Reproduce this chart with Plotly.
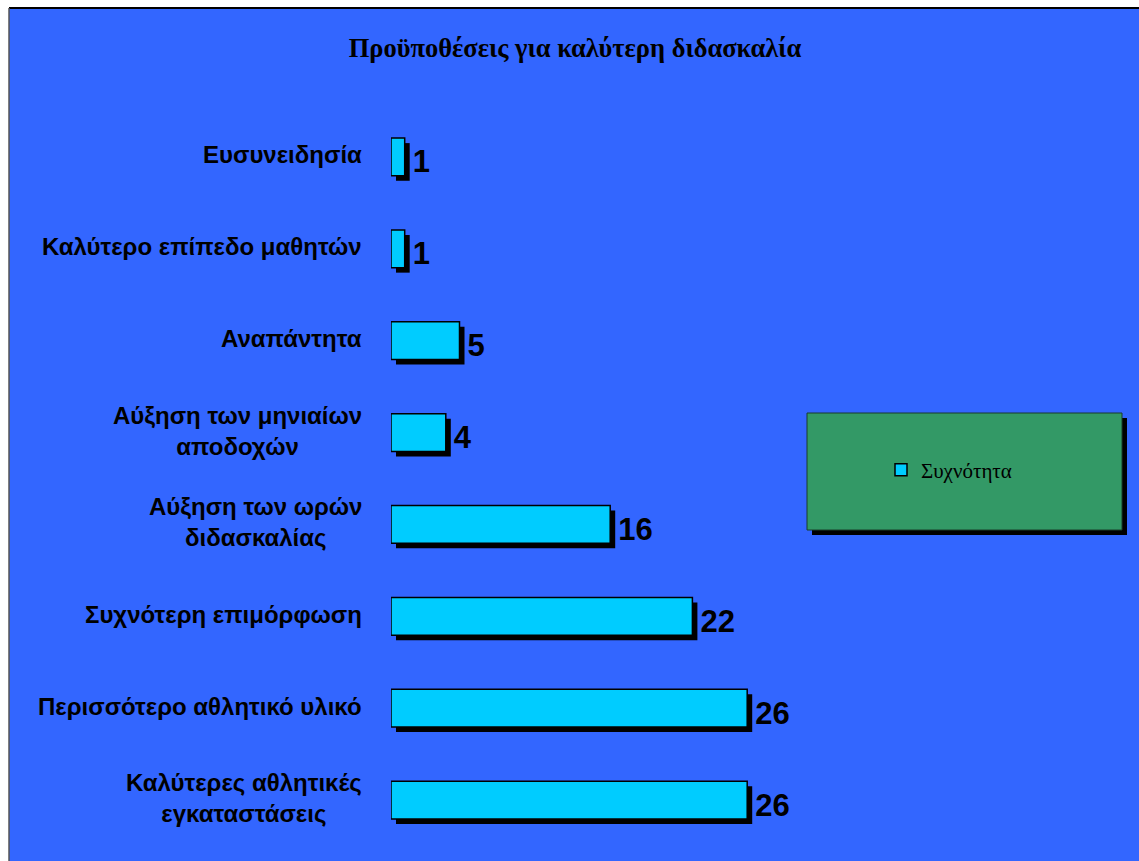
import plotly.graph_objects as go

# Survey data: conditions for better teaching (frequency counts)
categories = [
    "Ευσυνειδησία",
    "Καλύτερο επίπεδο μαθητών",
    "Αναπάντητα",
    "Αύξηση των μηνιαίων<br>αποδοχών",
    "Αύξηση των ωρών<br>διδασκαλίας",
    "Συχνότερη επιμόρφωση",
    "Περισσότερο αθλητικό υλικό",
    "Καλύτερες αθλητικές<br>εγκαταστάσεις",
]
frequencies = [1, 1, 5, 4, 16, 22, 26, 26]
series_name = "Συχνότητα"
title_text = "Προϋποθέσεις για καλύτερη διδασκαλία"

# Canvas geometry (pixels)
W, H = 1139, 861
ML, MR, MT, MB = 391, 337, 111, 15
X_MAX = 30
BAR_W = 0.41
SHADOW_PX = 5

plot_w = W - ML - MR
plot_h = H - MT - MB
n = len(categories)
pos = list(range(n))


def px2x(px):
    return (px - ML) / plot_w


def py2y(py):
    return 1 - (py - MT) / plot_h


# shadow offset converted into data units
dx = SHADOW_PX * X_MAX / plot_w
dy = SHADOW_PX * n / plot_h

BG = "#3366FF"
BAR = "#00CCFF"
GREEN = "#339966"
SANS = "Liberation Sans, Arial, sans-serif"
SERIF = "Liberation Serif, Times New Roman, serif"

fig = go.Figure()

# drop shadow behind each bar, carrying the value label
fig.add_trace(go.Bar(
    y=pos, x=frequencies, base=[dx] * n, orientation="h",
    width=BAR_W, offset=-BAR_W / 2 + dy,
    marker=dict(color="black", line=dict(width=0)),
    text=[str(v) for v in frequencies], textposition="outside",
    textfont=dict(family=SANS, size=31, color="black", weight="bold"),
    constraintext="none", cliponaxis=False,
    showlegend=False, hoverinfo="skip",
))

# main bars
fig.add_trace(go.Bar(
    y=pos, x=frequencies, orientation="h", name=series_name,
    width=BAR_W, offset=-BAR_W / 2,
    marker=dict(color=BAR, line=dict(color="black", width=1.5)),
    cliponaxis=False,
))

# category labels, centred multi-line text to the left of the bars
annotations = []
for i, cat in enumerate(categories):
    annotations.append(dict(
        x=0, y=i, xref="x", yref="y", text=f"<b>{cat}</b>",
        xanchor="right", yanchor="middle", align="center",
        xshift=-27, yshift=2, showarrow=False,
        font=dict(family=SANS, size=24, color="black"),
    ))

shapes = [
    # white page edge with black frame lines
    dict(type="rect", xref="paper", yref="paper",
         x0=px2x(-5), x1=px2x(W + 5), y0=py2y(8), y1=py2y(-5),
         fillcolor="white", line=dict(width=0), layer="below"),
    dict(type="rect", xref="paper", yref="paper",
         x0=px2x(-5), x1=px2x(9), y0=py2y(H + 5), y1=py2y(-5),
         fillcolor="white", line=dict(width=0), layer="below"),
    dict(type="line", xref="paper", yref="paper",
         x0=px2x(9), x1=px2x(W + 5), y0=py2y(8), y1=py2y(8),
         line=dict(color="black", width=2)),
    dict(type="line", xref="paper", yref="paper",
         x0=px2x(9), x1=px2x(9), y0=py2y(8), y1=py2y(H + 5),
         line=dict(color="#555555", width=1.5)),
    # legend panel shadow and body
    dict(type="rect", xref="paper", yref="paper",
         x0=px2x(812), x1=px2x(1127), y0=py2y(535), y1=py2y(418),
         fillcolor="black", line=dict(width=0), layer="below"),
    dict(type="rect", xref="paper", yref="paper",
         x0=px2x(807), x1=px2x(1122), y0=py2y(530), y1=py2y(413),
         fillcolor=GREEN, line=dict(color="#1a3d2a", width=1), layer="below"),
]

fig.update_layout(
    width=W, height=H,
    margin=dict(l=ML, r=MR, t=MT, b=MB, pad=0),
    paper_bgcolor=BG, plot_bgcolor="rgba(0,0,0,0)",
    barmode="overlay",
    title=dict(
        text=f"<b>{title_text}</b>", xref="paper", yref="container",
        x=px2x(575), xanchor="center", y=1 - 48 / H, yanchor="middle",
        font=dict(family=SERIF, size=26.5, color="black"),
    ),
    xaxis=dict(range=[0, X_MAX], visible=False, fixedrange=True),
    yaxis=dict(range=[n - 0.5, -0.5], visible=False, fixedrange=True),
    showlegend=True,
    legend=dict(
        x=px2x(881), y=py2y(470), xanchor="left", yanchor="middle",
        bgcolor="rgba(0,0,0,0)", borderwidth=0,
        font=dict(family=SERIF, size=21, color="black"),
    ),
    annotations=annotations,
    shapes=shapes,
)

fig.write_html("out.html")
